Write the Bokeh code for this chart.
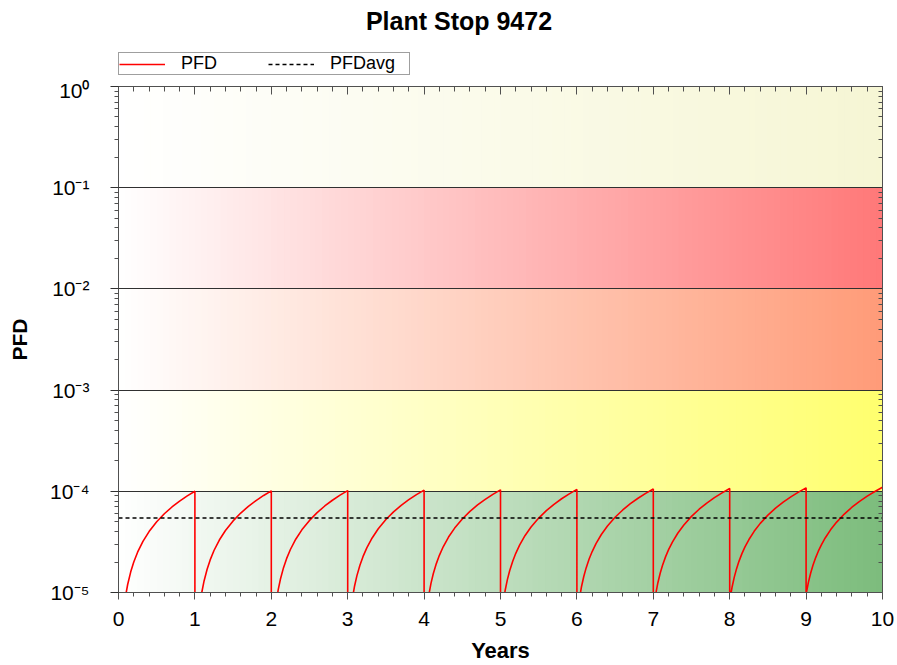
from bokeh.plotting import figure
from bokeh.layouts import column
from bokeh.models import (Range1d, LinearAxis, LogAxis, SingleIntervalTicker, FixedTicker,
                          CustomJSTickFormatter, Legend, LegendItem, Label)
from bokeh.embed import file_html
from bokeh.resources import INLINE

# ---------------- data ----------------
title_text = "Plant Stop 9472"
x_label = "Years"
y_label = "PFD"
series_names = ["PFD", "PFDavg"]

cycle_start_years = [0, 1, 2, 3, 4, 5, 6, 7, 8, 9]
cycle_offsets = [0.0, 0.03, 0.06, 0.09, 0.12, 0.16, 0.20, 0.25, 0.32, 0.40,
                 0.50, 0.60, 0.70, 0.80, 0.90, 1.00]
# PFD values (units of 1e-6) at each offset inside each proof-test year
pfd_year_1 = [0.3, 3.0, 6.0, 9.0, 12.0, 16.0, 20.0, 25.0, 32.0, 40.0, 50.0, 60.0, 70.0, 80.0, 90.0, 100.0]
pfd_year_2 = [1.0, 4.0, 7.0, 10.0, 13.0, 17.0, 21.0, 26.0, 33.0, 41.0, 51.0, 61.0, 71.0, 81.0, 91.0, 101.0]
pfd_year_3 = [1.6, 4.6, 7.6, 10.6, 13.6, 17.6, 21.6, 26.6, 33.6, 41.6, 51.6, 61.6, 71.6, 81.6, 91.6, 101.6]
pfd_year_4 = [2.6, 5.6, 8.6, 11.6, 14.6, 18.6, 22.6, 27.6, 34.6, 42.6, 52.6, 62.6, 72.6, 82.6, 92.6, 102.6]
pfd_year_5 = [3.3, 6.3, 9.3, 12.3, 15.3, 19.3, 23.3, 28.3, 35.3, 43.3, 53.3, 63.3, 73.3, 83.3, 93.3, 103.3]
pfd_year_6 = [4.4, 7.4, 10.4, 13.4, 16.4, 20.4, 24.4, 29.4, 36.4, 44.4, 54.4, 64.4, 74.4, 84.4, 94.4, 104.4]
pfd_year_7 = [5.4, 8.4, 11.4, 14.4, 17.4, 21.4, 25.4, 30.4, 37.4, 45.4, 55.4, 65.4, 75.4, 85.4, 95.4, 105.4]
pfd_year_8 = [6.5, 9.5, 12.5, 15.5, 18.5, 22.5, 26.5, 31.5, 38.5, 46.5, 56.5, 66.5, 76.5, 86.5, 96.5, 106.5]
pfd_year_9 = [8.2, 11.2, 14.2, 17.2, 20.2, 24.2, 28.2, 33.2, 40.2, 48.2, 58.2, 68.2, 78.2, 88.2, 98.2, 108.2]
pfd_year_10 = [9.6, 12.6, 15.6, 18.6, 21.6, 25.6, 29.6, 34.6, 41.6, 49.6, 59.6, 69.6, 79.6, 89.6, 99.6, 109.6]
pfd_years = [pfd_year_1, pfd_year_2, pfd_year_3, pfd_year_4, pfd_year_5,
             pfd_year_6, pfd_year_7, pfd_year_8, pfd_year_9, pfd_year_10]

pfd_avg = 5.45e-5

x_ticks = [0, 1, 2, 3, 4, 5, 6, 7, 8, 9, 10]
y_exponents = [-5, -4, -3, -2, -1, 0]
y_tick_labels = ["10\u207b\u2075", "10\u207b\u2074", "10\u207b\u00b3", "10\u207b\u00b2", "10\u207b\u00b9", "10\u2070"]
band_edges = [1e-5, 1e-4, 1e-3, 1e-2, 1e-1, 1.0]
# right-hand colour of each band's gradient (bottom band first)
band_colors = [(124, 188, 124), (255, 255, 110), (255, 155, 120), (255, 120, 120), (246, 246, 212)]

# ---------------- build ----------------
t_all, pfd_all = [], []
for start, vals in zip(cycle_start_years, pfd_years):
    for off, v in zip(cycle_offsets, vals):
        t_all.append(start + off)
        pfd_all.append(v * 1e-6)

FONT = "Liberation Sans"
W = 897
HEAD_H = 78
H = 665 - HEAD_H
ML, MR, MT, MB = 118, 15, 8, 73

PFD_STYLE = dict(line_color="#ff0000", line_width=1.6)
AVG_STYLE = dict(line_color="black", line_dash="4 3", line_width=1.5)

# ---- header (title + legend); its frame is aligned with the chart frame ----
head = figure(width=W, height=HEAD_H, x_range=Range1d(0, 1), y_range=Range1d(0, 1),
              x_axis_type=None, y_axis_type=None, output_backend="svg", toolbar_location=None,
              min_border=0, title=None)
head.outline_line_color = None
head.background_fill_color = "white"
head.border_fill_color = "white"
head.xgrid.visible = False
head.ygrid.visible = False
head.add_layout(Label(x=340.5, y=HEAD_H - 20, x_units="screen", y_units="screen",
                      text=title_text, text_align="center", text_baseline="alphabetic",
                      text_font=FONT, text_font_size="25px", text_font_style="bold",
                      text_color="black"))
# legend-only renderers (their points lie outside the header's visible range)
h_pfd = head.line(x=[-5, -4], y=[-5, -4], **PFD_STYLE)
h_avg = head.line(x=[-5, -4], y=[-5, -4], **AVG_STYLE)
legend = Legend(items=[LegendItem(label=series_names[0], renderers=[h_pfd]),
                       LegendItem(label=series_names[1], renderers=[h_avg])],
                location=(0, 3), orientation="horizontal",
                label_text_font=FONT, label_text_font_size="18px", label_text_color="black",
                label_text_baseline="middle",
                glyph_width=46, glyph_height=14, label_height=14, label_standoff=16,
                label_width=79, spacing=8, padding=0, margin=0,
                border_line_color="#404040", border_line_width=1,
                background_fill_color="white", background_fill_alpha=1.0)
head.add_layout(legend)

# ---- main chart ----
p = figure(width=W, height=H, x_range=Range1d(0, 10), y_range=Range1d(1e-5, 1),
           y_axis_type="log", output_backend="svg", toolbar_location=None, title=None,
           min_border_left=ML, min_border_right=MR, min_border_top=MT, min_border_bottom=MB)
p.background_fill_color = "white"
p.border_fill_color = "white"
p.outline_line_color = "#7a7a7a"
p.xgrid.visible = False
p.ygrid.visible = False

# gradient bands
N = 120
lefts, rights, bottoms, tops, cols = [], [], [], [], []
for (lo, hi), (r, g, b) in zip(zip(band_edges[:-1], band_edges[1:]), band_colors):
    for j in range(N):
        f = (j + 0.5) / N
        lefts.append(10.0 * j / N)
        rights.append(10.0 * (j + 1) / N + 0.03)
        bottoms.append(lo)
        tops.append(hi)
        cols.append("#%02x%02x%02x" % (round(255 + (r - 255) * f), round(255 + (g - 255) * f),
                                       round(255 + (b - 255) * f)))
p.quad(left=lefts, right=rights, bottom=bottoms, top=tops, fill_color=cols, line_color=None)
p.hspan(y=band_edges[1:-1], line_color="#303030", line_width=1)

p.line(t_all, pfd_all, **PFD_STYLE)
p.line([x_ticks[0], x_ticks[-1]], [pfd_avg, pfd_avg], **AVG_STYLE)

blank = CustomJSTickFormatter(code="return ''")
axis_col = "#505050"

# bottom axis
xa = p.xaxis[0]
xa.ticker = SingleIntervalTicker(interval=1, num_minor_ticks=5)
xa.major_tick_out = 7
xa.major_tick_in = 0
xa.minor_tick_out = 4
xa.minor_tick_in = 0
xa.major_tick_line_color = axis_col
xa.minor_tick_line_color = axis_col
xa.axis_line_color = axis_col
xa.major_label_text_font = FONT
xa.major_label_text_font_size = "21px"
xa.major_label_text_color = "black"
xa.major_label_standoff = 12
xa.axis_label = x_label
xa.axis_label_text_font = FONT
xa.axis_label_text_font_size = "22px"
xa.axis_label_text_font_style = "bold"
xa.axis_label_text_color = "black"
xa.axis_label_standoff = 9

# top axis (inward ticks)
ta = LinearAxis(ticker=SingleIntervalTicker(interval=1, num_minor_ticks=5), formatter=blank,
                major_tick_in=8, major_tick_out=0, minor_tick_in=5, minor_tick_out=0,
                major_label_text_font_size="0px", major_label_standoff=0,
                major_tick_line_color=axis_col, minor_tick_line_color=axis_col,
                axis_line_color=axis_col)
p.add_layout(ta, "above")

major_y = [10.0 ** e for e in y_exponents]
minor_y = [m * 10.0 ** e for e in y_exponents[:-1] for m in range(2, 10)]

ya = p.yaxis[0]
ya.ticker = FixedTicker(ticks=major_y, minor_ticks=minor_y)
ya.formatter = CustomJSTickFormatter(args=dict(labels=y_tick_labels), code="return labels[index]")
ya.major_label_text_font = FONT
ya.major_label_text_font_size = "21px"
ya.major_label_text_color = "black"
ya.major_label_standoff = 21
ya.major_tick_out = 8
ya.major_tick_in = 0
ya.minor_tick_out = 4
ya.minor_tick_in = 0
ya.major_tick_line_color = "#303030"
ya.minor_tick_line_color = axis_col
ya.axis_line_color = axis_col
ya.axis_label = y_label
ya.axis_label_text_font = FONT
ya.axis_label_text_font_size = "21px"
ya.axis_label_text_font_style = "bold"
ya.axis_label_text_color = "black"
ya.axis_label_standoff = 16

ra = LogAxis(ticker=FixedTicker(ticks=major_y, minor_ticks=minor_y), formatter=blank,
             major_tick_in=0, major_tick_out=0, minor_tick_in=4, minor_tick_out=0,
             major_label_text_font_size="0px", major_label_standoff=0,
             minor_tick_line_color=axis_col, axis_line_color=axis_col)
p.add_layout(ra, "right")

layout = column(head, p, spacing=0)
open("out.html", "w").write(file_html(layout, INLINE))
